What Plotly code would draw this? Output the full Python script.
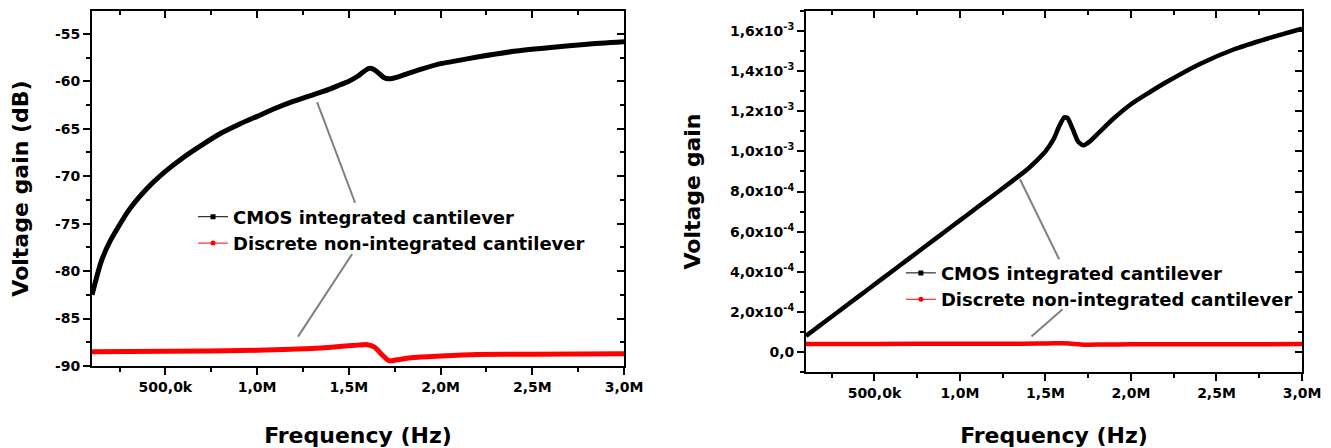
import plotly.graph_objects as go

# Frequency sweep (Hz) for the CMOS integrated cantilever
freq_cmos = [1.0e5, 1.5e5, 2.0e5, 3.0e5, 4.0e5, 5.0e5, 6.0e5, 7.0e5, 8.0e5, 9.0e5,
             1.0e6, 1.1e6, 1.2e6, 1.3e6, 1.4e6, 1.45e6, 1.5e6, 1.55e6, 1.58e6, 1.61e6,
             1.63e6, 1.66e6, 1.69e6, 1.72e6, 1.76e6, 1.82e6, 1.9e6,
             2.0e6, 2.1e6, 2.2e6, 2.4e6, 2.6e6, 2.8e6, 3.0e6]
gain_cmos_db = [-82.5, -79.0, -76.8, -73.6, -71.3, -69.5, -68.0, -66.7, -65.5, -64.55,
                -63.7, -62.85, -62.1, -61.45, -60.8, -60.4, -60.0, -59.45, -59.0, -58.65,
                -58.7, -59.1, -59.6, -59.75, -59.6, -59.2, -58.7,
                -58.15, -57.8, -57.45, -56.85, -56.45, -56.1, -55.85]
gain_cmos_lin = [0.080e-3, 0.112e-3, 0.144e-3, 0.208e-3, 0.272e-3, 0.336e-3, 0.400e-3, 0.464e-3, 0.528e-3, 0.592e-3,
                 0.656e-3, 0.720e-3, 0.784e-3, 0.848e-3, 0.915e-3, 0.955e-3, 1.000e-3, 1.065e-3, 1.125e-3, 1.170e-3,
                 1.165e-3, 1.110e-3, 1.050e-3, 1.030e-3, 1.050e-3, 1.100e-3, 1.165e-3,
                 1.235e-3, 1.290e-3, 1.342e-3, 1.435e-3, 1.508e-3, 1.563e-3, 1.612e-3]

# Frequency sweep (Hz) for the discrete non-integrated cantilever
freq_disc = [1.0e5, 5.0e5, 1.0e6, 1.3e6, 1.45e6, 1.55e6, 1.6e6, 1.64e6,
             1.68e6, 1.72e6, 1.76e6, 1.85e6, 2.0e6, 2.2e6, 2.5e6, 3.0e6]
gain_disc_db = [-88.5, -88.45, -88.35, -88.15, -87.95, -87.8, -87.75, -88.0,
                -88.8, -89.45, -89.35, -89.1, -88.95, -88.8, -88.75, -88.7]
gain_disc_lin = [0.040e-3, 0.040e-3, 0.041e-3, 0.041e-3, 0.042e-3, 0.043e-3, 0.043e-3, 0.042e-3,
                 0.039e-3, 0.036e-3, 0.036e-3, 0.037e-3, 0.038e-3, 0.038e-3, 0.038e-3, 0.039e-3]

series_names = ["CMOS integrated cantilever", "Discrete non-integrated cantilever"]

# Axis ticks
freq_ticks = [5.0e5, 1.0e6, 1.5e6, 2.0e6, 2.5e6, 3.0e6]
freq_labels = ["500,0k", "1,0M", "1,5M", "2,0M", "2,5M", "3,0M"]
freq_minor = [2.5e5, 7.5e5, 1.25e6, 1.75e6, 2.25e6, 2.75e6]
db_ticks = [-90, -85, -80, -75, -70, -65, -60, -55]
db_labels = ["-90", "-85", "-80", "-75", "-70", "-65", "-60", "-55"]
db_minor = [-87.5, -82.5, -77.5, -72.5, -67.5, -62.5, -57.5]
lin_ticks = [0.0, 2e-4, 4e-4, 6e-4, 8e-4, 1.0e-3, 1.2e-3, 1.4e-3, 1.6e-3]
lin_labels = ["0,0", "2,0x10<sup>-4</sup>", "4,0x10<sup>-4</sup>", "6,0x10<sup>-4</sup>",
              "8,0x10<sup>-4</sup>", "1,0x10<sup>-3</sup>", "1,2x10<sup>-3</sup>",
              "1,4x10<sup>-3</sup>", "1,6x10<sup>-3</sup>"]
lin_minor = [-1e-4, 1e-4, 3e-4, 5e-4, 7e-4, 9e-4, 1.1e-3, 1.3e-3, 1.5e-3, 1.7e-3]

FONT = "DejaVu Sans, Arial, sans-serif"
freq_range = [1.0e5, 3.0e6]
db_range = [-90, -52.6]
lin_range = [-1e-4, 1.7e-3]

fig = go.Figure()

# Left panel: gain in dB
fig.add_trace(go.Scatter(x=freq_cmos, y=gain_cmos_db, mode="lines",
                         line=dict(color="black", width=5, shape="spline", smoothing=0.6),
                         showlegend=False, xaxis="x", yaxis="y"))
fig.add_trace(go.Scatter(x=freq_disc, y=gain_disc_db, mode="lines",
                         line=dict(color="#ff0000", width=5, shape="spline", smoothing=0.6),
                         showlegend=False, xaxis="x", yaxis="y"))

# Right panel: linear gain
fig.add_trace(go.Scatter(x=freq_cmos, y=gain_cmos_lin, mode="lines",
                         line=dict(color="black", width=4.5, shape="spline", smoothing=0.6),
                         showlegend=False, xaxis="x2", yaxis="y2"))
fig.add_trace(go.Scatter(x=freq_disc, y=gain_disc_lin, mode="lines",
                         line=dict(color="#ff0000", width=4.5, shape="spline", smoothing=0.6),
                         showlegend=False, xaxis="x2", yaxis="y2"))

# Legend entries (line + symbol style)
styles = [dict(color="black", symbol="square"), dict(color="#ff0000", symbol="circle")]
for leg, xa, ya in [("legend", "x", "y"), ("legend2", "x2", "y2")]:
    for i, (name, st) in enumerate(zip(series_names, styles)):
        fig.add_trace(go.Scatter(x=[None], y=[None], mode="lines+markers", name=name,
                                 line=dict(color=st["color"], width=1),
                                 marker=dict(color=st["color"], symbol=st["symbol"], size=5),
                                 legend=leg, legendgroup=f"{leg}{i}", xaxis=xa, yaxis=ya))

# Empty traces that bring up the inward-tick frame axes
for xa, ya in [("x3", "y"), ("x", "y3"), ("x4", "y2"), ("x2", "y4")]:
    fig.add_trace(go.Scatter(x=[None], y=[None], mode="lines", showlegend=False,
                             hoverinfo="skip", xaxis=xa, yaxis=ya))

tickfont = dict(family=FONT, size=14, color="black", weight="bold")
titlefont = dict(family=FONT, size=22, color="black", weight="bold")


def main_axis(rng, tickvals, ticktext, minor_vals, domain, anchor, title, standoff):
    return dict(range=rng, domain=domain, anchor=anchor, showgrid=False, zeroline=False,
                showline=True, linewidth=2, linecolor="black", mirror=True,
                ticks="outside", ticklen=7, tickwidth=2, tickcolor="black",
                tickmode="array", tickvals=tickvals, ticktext=ticktext, tickfont=tickfont,
                minor=dict(tickmode="array", tickvals=minor_vals, ticks="outside",
                           ticklen=4, tickwidth=2, tickcolor="black", showgrid=False),
                title=dict(text=title, font=titlefont, standoff=standoff),
                automargin=False)


def frame_axis(rng, tickvals, minor_vals, overlay, side, anchor):
    return dict(range=rng, overlaying=overlay, side=side, anchor=anchor, showgrid=False,
                zeroline=False, showline=False, ticks="inside", ticklen=7, tickwidth=2,
                tickcolor="black", tickmode="array", tickvals=tickvals, showticklabels=False,
                tickfont=tickfont,
                minor=dict(tickmode="array", tickvals=minor_vals, ticks="inside",
                           ticklen=4, tickwidth=2, tickcolor="black", showgrid=False),
                automargin=False)


left_dom_x = [0.0, 0.4397]
right_dom_x = [0.5901, 1.0]
left_dom_y = [0.0166, 1.0]
right_dom_y = [0.0, 1.0]

fig.update_layout(
    width=1331, height=448,
    margin=dict(l=92, r=29, t=11, b=76),
    paper_bgcolor="white", plot_bgcolor="white",
    font=dict(family=FONT, size=14, color="black"),
    xaxis=main_axis(freq_range, freq_ticks, freq_labels, freq_minor, left_dom_x, "y",
                    "Frequency (Hz)", 35),
    yaxis=main_axis(db_range, db_ticks, db_labels, db_minor, left_dom_y, "x",
                    "Voltage gain (dB)", 20),
    xaxis2=main_axis(freq_range, freq_ticks, freq_labels, freq_minor, right_dom_x, "y2",
                     "Frequency (Hz)", 29),
    yaxis2=main_axis(lin_range, lin_ticks, lin_labels, lin_minor, right_dom_y, "x2",
                     "Voltage gain", 23),
    xaxis3=frame_axis(freq_range, freq_ticks, freq_minor, "x", "top", "y"),
    yaxis3=frame_axis(db_range, db_ticks, db_minor, "y", "right", "x"),
    xaxis4=frame_axis(freq_range, freq_ticks, freq_minor, "x2", "top", "y2"),
    yaxis4=frame_axis(lin_range, lin_ticks, lin_minor, "y2", "right", "x2"),
    legend=dict(x=0.0835, y=0.4806, xanchor="left", yanchor="top", bgcolor="rgba(0,0,0,0)",
                font=dict(family=FONT, size=18, color="black", weight="bold"),
                traceorder="grouped", tracegroupgap=0, itemwidth=30),
    legend2=dict(x=0.6685, y=0.325, xanchor="left", yanchor="top", bgcolor="rgba(0,0,0,0)",
                 font=dict(family=FONT, size=18, color="black", weight="bold"),
                 traceorder="grouped", tracegroupgap=0, itemwidth=30),
    shapes=[
        # pointer lines linking legend labels to curves
        dict(type="line", xref="x", yref="y", x0=1.327e6, y0=-62.2, x1=1.534e6, y1=-72.8,
             line=dict(color="#808080", width=2)),
        dict(type="line", xref="x", yref="y", x0=1.518e6, y0=-78.2, x1=1.223e6, y1=-86.9,
             line=dict(color="#808080", width=2)),
        dict(type="line", xref="x2", yref="y2", x0=1.351e6, y0=0.861e-3, x1=1.580e6, y1=0.462e-3,
             line=dict(color="#808080", width=2)),
        dict(type="line", xref="x2", yref="y2", x0=1.600e6, y0=0.213e-3, x1=1.418e6, y1=0.077e-3,
             line=dict(color="#808080", width=2)),
    ],
)

fig.write_html("out.html")
